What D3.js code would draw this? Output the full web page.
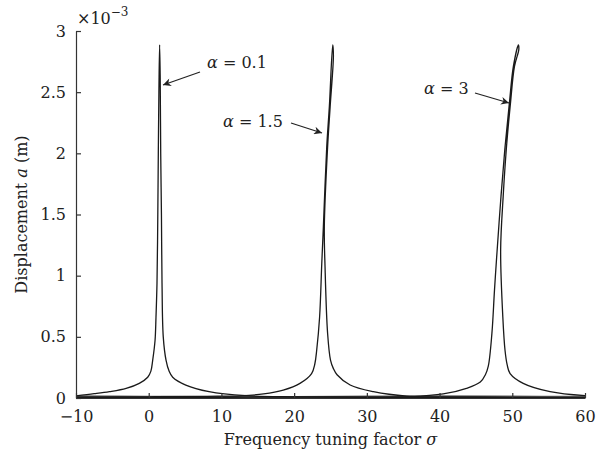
<!DOCTYPE html>
<html>
<head>
<meta charset="utf-8">
<script src="https://cdn.jsdelivr.net/npm/d3@7"></script>
<style>
  body { margin: 0; background: #fff; }
</style>
</head>
<body>
<div id="canvas"></div>
<script>
// tick values
const xTicks = [-10, 0, 10, 20, 30, 40, 50, 60];
const yTicks = [0, 0.5, 1, 1.5, 2, 2.5, 3];

// curves: [sigma, displacement (x1e-3 m)]
const alpha01 = [
  [-10, 0.018], [-7.5, 0.035], [-5.4, 0.052], [-3.1, 0.079], [-1.3, 0.12],
  [-0.14, 0.17], [0.3, 0.22], [0.55, 0.31], [0.87, 0.47], [1.0, 0.66], [1.14, 0.94],
  [1.25, 1.5], [1.32, 2.0], [1.4, 2.5], [1.5, 2.886], [1.58, 2.62],
  [1.65, 2.0], [1.75, 1.5], [1.83, 0.94], [2.0, 0.5], [2.38, 0.31], [2.8, 0.22],
  [3.3, 0.17], [5.1, 0.106], [8.3, 0.052], [13.4, 0.019], [20, 0.01],
  [30, 0.006], [45, 0.004], [60, 0.003]
];
const alpha15 = [
  [-10, 0.006], [0, 0.01], [8, 0.014], [12.6, 0.018], [15.8, 0.033],
  [18.5, 0.065], [20.8, 0.12], [22.4, 0.2], [22.85, 0.28], [23.1, 0.39], [23.5, 0.66],
  [23.8, 1.1], [24.02, 1.4], [24.48, 2.05], [24.84, 2.38], [25.3, 2.886],
  [25.4, 2.8], [24.95, 2.38], [24.6, 2.05], [24.15, 1.4], [24.25, 1.07],
  [24.6, 0.53], [25.0, 0.31], [25.4, 0.24], [25.9, 0.19], [27.7, 0.106], [30.9, 0.052],
  [35.5, 0.016], [45, 0.008], [60, 0.005]
];
const alpha3 = [
  [-10, 0.004], [10, 0.006], [25, 0.008], [35.9, 0.011], [40.5, 0.033],
  [43.7, 0.079], [45.6, 0.13], [46.3, 0.19], [46.7, 0.26], [47.2, 0.53], [47.55, 0.88],
  [47.85, 1.15], [48.45, 1.65], [49.0, 2.05], [49.6, 2.41], [50.15, 2.71],
  [50.84, 2.886], [50.9, 2.85], [50.3, 2.71], [49.75, 2.41], [49.2, 2.05],
  [48.75, 1.65], [48.4, 1.21], [48.7, 0.66], [49.0, 0.39], [49.3, 0.27], [49.7, 0.2],
  [51.5, 0.12], [55.2, 0.052], [60, 0.019]
];
// lower branches hugging the axis
const lowBranch = [
  [-10, 0.012], [0, 0.008], [10, 0.006], [20, 0.007], [30, 0.01],
  [40, 0.012], [50, 0.01], [60, 0.008]
];

const labels = [
  { text: "0.1", x: 207, y: 68, from: [200, 72], to: [163, 85] },
  { text: "1.5", x: 223, y: 127, from: [291, 123], to: [322, 133] },
  { text: "3", x: 424, y: 94, from: [475, 93], to: [509, 103] }
];

const serif = '"DejaVu Serif", "Liberation Serif", serif';

const width = 597;
const height = 462;
const margin = { top: 31, left: 76, bottom: 64, right: 12 };
const iwidth = width - margin.left - margin.right;
const iheight = height - margin.top - margin.bottom;

const svg = d3.select("#canvas").append("svg")
  .attr("width", width)
  .attr("height", height)
  .style("font-family", serif);

const defs = svg.append("defs");
defs.append("marker")
  .attr("id", "arrow")
  .attr("viewBox", "0 0 10 10")
  .attr("refX", 10)
  .attr("refY", 5)
  .attr("markerWidth", 12)
  .attr("markerHeight", 8)
  .attr("markerUnits", "userSpaceOnUse")
  .attr("orient", "auto")
  .append("path")
  .attr("d", "M0,0 L10,5 L0,10 L3,5 Z")
  .attr("fill", "#222");

const g = svg.append("g")
  .attr("transform", `translate(${margin.left},${margin.top})`);

const x = d3.scaleLinear().domain([-10, 60]).range([0, iwidth]);
const y = d3.scaleLinear().domain([0, 3]).range([iheight, 0]);

const line = d3.line()
  .x((d) => x(d[0]))
  .y((d) => y(d[1]))
  .curve(d3.curveCatmullRom.alpha(0.5));

g.append("path")
  .datum(lowBranch)
  .attr("d", line)
  .attr("fill", "none")
  .attr("stroke", "#666")
  .attr("stroke-width", 2.5);

[alpha01, alpha15, alpha3].forEach((c) => {
  g.append("path")
    .datum(c)
    .attr("d", line)
    .attr("fill", "none")
    .attr("stroke", "#1a1a1a")
    .attr("stroke-width", 1.3)
    .attr("stroke-linejoin", "round");
});

// axes
const xAxis = g.append("g")
  .attr("transform", `translate(0, ${iheight})`)
  .call(d3.axisBottom(x).tickValues(xTicks).tickSize(-5).tickSizeOuter(0)
    .tickPadding(13).tickFormat((d) => (d < 0 ? "\u2212" + Math.abs(d) : d)));

const yAxis = g.append("g")
  .call(d3.axisLeft(y).tickValues(yTicks).tickSize(-5).tickSizeOuter(0)
    .tickPadding(10).tickFormat((d) => d));

[xAxis, yAxis].forEach((a) => {
  a.attr("font-family", serif).attr("font-size", 16);
  a.selectAll("path, line").attr("stroke", "#333").attr("stroke-width", 1.2);
  a.selectAll("text").attr("fill", "#222");
});

// exponent note
const ex = svg.append("text")
  .attr("x", 77)
  .attr("y", 24)
  .attr("fill", "#222")
  .attr("font-size", 16);
ex.append("tspan").text("\u00d710");
ex.append("tspan").attr("dy", -8).attr("font-size", 12).text("\u22123");

// axis titles
const xt = svg.append("text")
  .attr("x", margin.left + iwidth / 2)
  .attr("y", 445)
  .attr("text-anchor", "middle")
  .attr("fill", "#222")
  .attr("font-size", 16);
xt.append("tspan").text("Frequency tuning factor ");
xt.append("tspan").attr("font-style", "italic").text("\u03c3");

const yt = svg.append("text")
  .attr("transform", `translate(27, ${margin.top + iheight / 2}) rotate(-90)`)
  .attr("text-anchor", "middle")
  .attr("fill", "#222")
  .attr("font-size", 16);
yt.append("tspan").text("Displacement ");
yt.append("tspan").attr("font-style", "italic").text("a");
yt.append("tspan").text(" (m)");

// annotations
labels.forEach((l) => {
  const t = svg.append("text")
    .attr("x", l.x)
    .attr("y", l.y)
    .attr("fill", "#222")
    .attr("font-size", 16);
  t.append("tspan").attr("font-style", "italic").text("\u03b1");
  t.append("tspan").text(" = " + l.text);
  svg.append("line")
    .attr("x1", l.from[0]).attr("y1", l.from[1])
    .attr("x2", l.to[0]).attr("y2", l.to[1])
    .attr("stroke", "#222")
    .attr("stroke-width", 1.2)
    .attr("marker-end", "url(#arrow)");
});
</script>
</body>
</html>
